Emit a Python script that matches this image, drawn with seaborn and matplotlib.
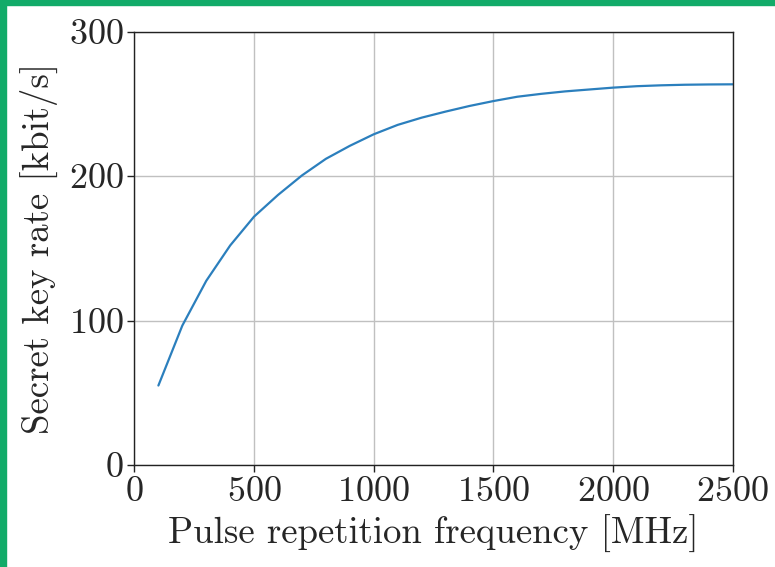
import numpy as np
import pandas as pd
import matplotlib
matplotlib.use("Agg")
import matplotlib.pyplot as plt
from matplotlib.patches import Rectangle
import seaborn as sns

# values
freq_mhz = [100, 200, 300, 400, 500, 600, 700, 800, 900, 1000, 1100, 1200, 1300,
            1400, 1500, 1600, 1700, 1800, 1900, 2000, 2100, 2200, 2300, 2400, 2500]
key_rate = [55, 96.5, 127.5, 152, 172, 187, 200.5, 212, 221, 229, 235.5, 240.5, 244.7,
            248.6, 252, 255, 257, 258.7, 260, 261.3, 262.3, 262.9, 263.3, 263.5, 263.6]

x_ticks = [0, 500, 1000, 1500, 2000, 2500]
y_ticks = [0, 100, 200, 300]

sns.set_style("ticks")
plt.rcParams["font.family"] = "serif"
plt.rcParams["font.serif"] = ["cmr10"]
plt.rcParams["mathtext.fontset"] = "cm"
plt.rcParams["axes.formatter.use_mathtext"] = True

df = pd.DataFrame({"f": freq_mhz, "r": key_rate})

fig = plt.figure(figsize=(7.75, 5.67), dpi=100)
ax = fig.add_axes([0.1735, 0.180, 0.9454 - 0.1735, 0.944 - 0.180])

sns.lineplot(data=df, x="f", y="r", ax=ax, color="#2b7fbd", linewidth=1.6)

ax.set_xlim(0, 2500)
ax.set_ylim(0, 300)
ax.set_xticks(x_ticks)
ax.set_yticks(y_ticks)
ax.grid(True, color="#c0c0c0", linewidth=1.0)
ax.set_axisbelow(True)
for s in ax.spines.values():
    s.set_color("#222222")
    s.set_linewidth(1.0)
ax.tick_params(axis="both", labelsize=26, length=5, width=1.0, color="#222222", pad=3)
ax.set_xlabel("Pulse repetition frequency [MHz]", fontsize=26.5, labelpad=5)
ax.set_ylabel("Secret key rate [kbit/s]", fontsize=26.5, labelpad=8)

# green frame strips on top and left
green = "#12ab69"
fig.patches.append(Rectangle((0, 0), 6 / 775, 1, transform=fig.transFigure, color=green, zorder=10))
fig.patches.append(Rectangle((0, 1 - 5 / 567), 1, 5 / 567, transform=fig.transFigure, color=green, zorder=10))

fig.savefig("out.png", dpi=100)
